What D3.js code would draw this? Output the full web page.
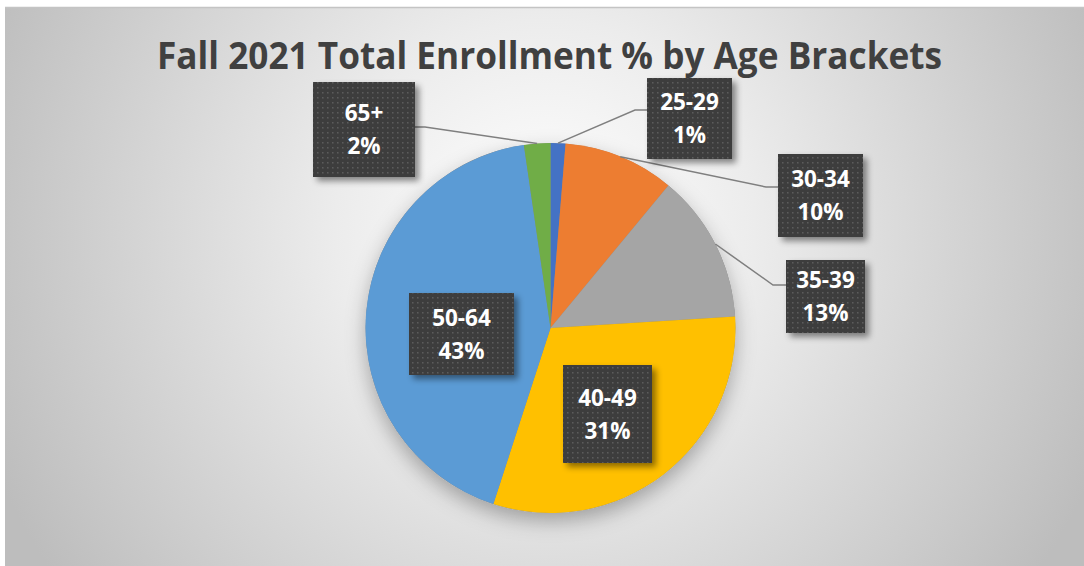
<!DOCTYPE html>
<html><head><meta charset="utf-8">
<script src="https://cdn.jsdelivr.net/npm/d3@7"></script>
<style>html,body{margin:0;padding:0;background:#fff;}svg{display:block;}</style>
</head><body>
<svg id="c" width="1084" height="566"></svg>
<script>
// ---- data ----
const title = "Fall 2021 Total Enrollment % by Age Brackets";
const categories = ["25-29", "30-34", "35-39", "40-49", "50-64", "65+"];
const values = [1.3, 9.7, 13.0, 31.0, 42.7, 2.3];
const percentLabels = ["1%", "10%", "13%", "31%", "43%", "2%"];
const colors = ["#4472C4", "#ED7D31", "#A5A5A5", "#FFC000", "#5B9BD5", "#70AD47"];

// ---- layout (label box centres/sizes, leader elbows) ----
const boxLayout = [
  {cx: 689.5, cy: 118.5, w: 85, h: 81, side: "left", elbow: 12},
  {cx: 820.5, cy: 195.5, w: 85, h: 83, side: "left", elbow: 12},
  {cx: 825.5, cy: 296.5, w: 79, h: 73, side: "left", elbow: 13},
  {cx: 607.5, cy: 414, w: 89, h: 98, side: null},
  {cx: 461.5, cy: 334, w: 105, h: 82, side: null},
  {cx: 364, cy: 129.5, w: 102, h: 95, side: "right", elbow: 10}
];
const leaderY = [110, 187, 285, null, null, 127];

const svg = d3.select("#c");
const defs = svg.append("defs");

const bg = defs.append("radialGradient").attr("id","bg")
  .attr("gradientUnits","userSpaceOnUse").attr("cx",545).attr("cy",230).attr("r",600);
bg.append("stop").attr("offset","0").attr("stop-color","#ffffff");
bg.append("stop").attr("offset","0.35").attr("stop-color","#ececec");
bg.append("stop").attr("offset","1").attr("stop-color","#bdbdbd");

const pat = defs.append("pattern").attr("id","dots").attr("patternUnits","userSpaceOnUse")
  .attr("width",5).attr("height",5);
pat.append("rect").attr("width",5).attr("height",5).attr("fill","#3e3e3e");
pat.append("rect").attr("x",2).attr("y",2).attr("width",1.5).attr("height",1.5).attr("fill","#5c5c5c");

const sh = defs.append("filter").attr("id","boxshadow").attr("x","-20%").attr("y","-20%").attr("width","150%").attr("height","150%");
sh.append("feDropShadow").attr("dx",4).attr("dy",4).attr("stdDeviation",3).attr("flood-color","#000").attr("flood-opacity",0.45);
const psh = defs.append("filter").attr("id","pieshadow").attr("x","-30%").attr("y","-30%").attr("width","160%").attr("height","160%");
psh.append("feDropShadow").attr("dx",0).attr("dy",8).attr("stdDeviation",10).attr("flood-color","#000").attr("flood-opacity",0.3);

// background
svg.append("rect").attr("x",5).attr("y",8).attr("width",1079).attr("height",558).attr("fill","url(#bg)");
svg.append("line").attr("x1",5).attr("x2",1084).attr("y1",7.5).attr("y2",7.5).attr("stroke","#c4c4c4").attr("stroke-width",1.5);

// title
svg.append("text").attr("x",549.5).attr("y",69).attr("text-anchor","middle")
  .attr("font-family","'Open Sans', sans-serif").attr("font-weight","bold")
  .attr("font-size",38).attr("fill","#404040")
  .attr("textLength",785).attr("lengthAdjust","spacingAndGlyphs").text(title);

// pie
const cx = 550.5, cy = 328, r = 185;
const pie = d3.pie().sort(null).value(d => d)(values);
const arc = d3.arc().innerRadius(0).outerRadius(r);
const g = svg.append("g").attr("transform",`translate(${cx},${cy})`);
g.append("circle").attr("r",r).attr("fill","#888").attr("filter","url(#pieshadow)");
g.selectAll("path.s").data(pie).join("path").attr("class","s")
  .attr("d",arc).attr("fill",(d,i)=>colors[i]);

// leader lines
pie.forEach((d,i)=>{
  const L = boxLayout[i];
  if (!L.side) return;
  const a = (d.startAngle + d.endAngle)/2;
  const ax = cx + r*Math.sin(a), ay = cy - r*Math.cos(a);
  const edgeX = L.side === "left" ? L.cx - L.w/2 : L.cx + L.w/2;
  const elbowX = L.side === "left" ? edgeX - L.elbow : edgeX + L.elbow;
  const y = leaderY[i];
  svg.append("polyline").attr("points",`${ax},${ay} ${elbowX},${y} ${edgeX},${y}`)
    .attr("fill","none").attr("stroke","#7f7f7f").attr("stroke-width",1.5);
});

// label boxes
const lg = svg.append("g");
categories.forEach((c,i)=>{
  const L = boxLayout[i];
  lg.append("rect").attr("x",L.cx-L.w/2).attr("y",L.cy-L.h/2).attr("width",L.w).attr("height",L.h)
    .attr("fill","url(#dots)").attr("filter","url(#boxshadow)");
  const t = lg.append("text").attr("text-anchor","middle")
    .attr("font-family","'Open Sans', sans-serif").attr("font-weight","bold")
    .attr("font-size",22.5).attr("fill","#ffffff");
  t.append("tspan").attr("x",L.cx).attr("y",L.cy-8.5).text(c);
  t.append("tspan").attr("x",L.cx).attr("y",L.cy+24.5).text(percentLabels[i]);
});
</script>
</body></html>
